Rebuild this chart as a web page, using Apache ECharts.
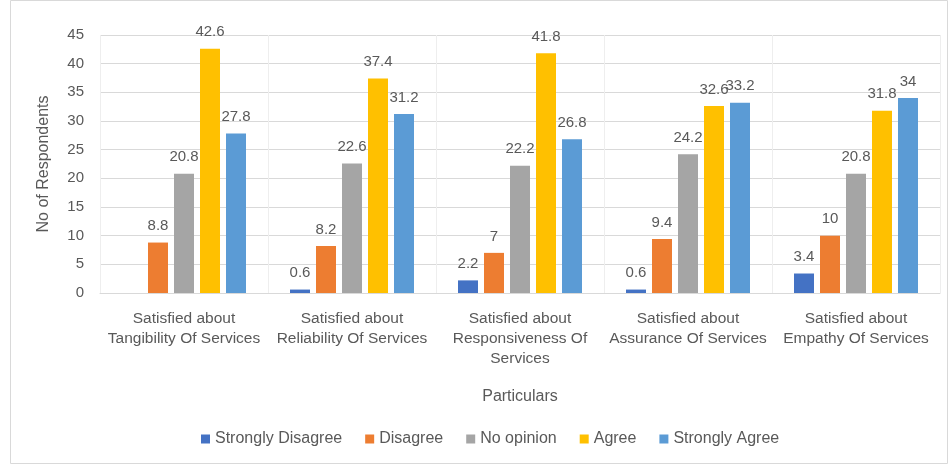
<!DOCTYPE html>
<html>
<head>
<meta charset="utf-8">
<script src="https://cdn.jsdelivr.net/npm/echarts@6/dist/echarts.min.js"></script>
<style>html,body{margin:0;padding:0;background:#fff}#c{width:952px;height:469px}</style>
</head>
<body>
<div id="c"></div>
<script>
var categories = [
  "Satisfied about\nTangibility Of Services",
  "Satisfied about\nReliability Of Services",
  "Satisfied about\nResponsiveness Of\nServices",
  "Satisfied about\nAssurance Of Services",
  "Satisfied about\nEmpathy Of Services"
];
var seriesNames = ["Strongly Disagree", "Disagree", "No opinion", "Agree", "Strongly Agree"];
var stronglyDisagree = [null, 0.6, 2.2, 0.6, 3.4];
var disagree = [8.8, 8.2, 7, 9.4, 10];
var noOpinion = [20.8, 22.6, 22.2, 24.2, 20.8];
var agree = [42.6, 37.4, 41.8, 32.6, 31.8];
var stronglyAgree = [27.8, 31.2, 26.8, 33.2, 34];
var colors = ["#4472C4", "#ED7D31", "#A5A5A5", "#FFC000", "#5B9BD5"];
var yTicks = [0, 5, 10, 15, 20, 25, 30, 35, 40, 45];

var font = "Liberation Sans";
var txt = "#595959";
var allData = [stronglyDisagree, disagree, noOpinion, agree, stronglyAgree];

var chart = echarts.init(document.getElementById('c'));
chart.setOption({
  animation: false,
  color: colors,
  textStyle: {fontFamily: font},
  graphic: [{
    type: 'rect', shape: {x: 10.5, y: 0.5, width: 937, height: 463},
    style: {fill: 'none', stroke: '#d9d9d9', lineWidth: 1}, silent: true, z: -10
  }],
  grid: {left: 100, right: 12, top: 35, bottom: 176},
  legend: {
    bottom: 17, left: 196, itemWidth: 9, itemHeight: 9, itemGap: 23,
    icon: 'rect',
    textStyle: {color: txt, fontSize: 16, fontFamily: font},
    data: seriesNames
  },
  xAxis: {
    type: 'category', data: categories,
    name: 'Particulars', nameLocation: 'middle', nameGap: 96,
    nameTextStyle: {color: txt, fontSize: 16, fontFamily: font},
    axisLine: {lineStyle: {color: '#d9d9d9'}},
    axisTick: {show: false},
    axisLabel: {color: txt, fontSize: 15.5, lineHeight: 20, margin: 16, interval: 0, fontFamily: font},
    splitLine: {show: true, lineStyle: {color: '#eeeeee'}}
  },
  yAxis: {
    type: 'value', min: 0, max: 45, interval: 5,
    name: 'No of Respondents', nameLocation: 'middle', nameGap: 48, nameRotate: 90,
    nameTextStyle: {color: txt, fontSize: 16, fontFamily: font},
    axisLine: {show: false}, axisTick: {show: false},
    axisLabel: {color: txt, fontSize: 15, margin: 16, fontFamily: font,
      formatter: function (v) { return yTicks.indexOf(v) >= 0 ? String(v) : ''; }},
    splitLine: {lineStyle: {color: '#d9d9d9'}}
  },
  series: seriesNames.map(function (n, i) {
    return {
      name: n, type: 'bar', data: allData[i],
      barWidth: 20, barGap: '30%', barCategoryGap: '26%',
      label: {show: true, position: 'top', color: txt, fontSize: 15, fontFamily: font, distance: 9}
    };
  })
});
</script>
</body>
</html>
